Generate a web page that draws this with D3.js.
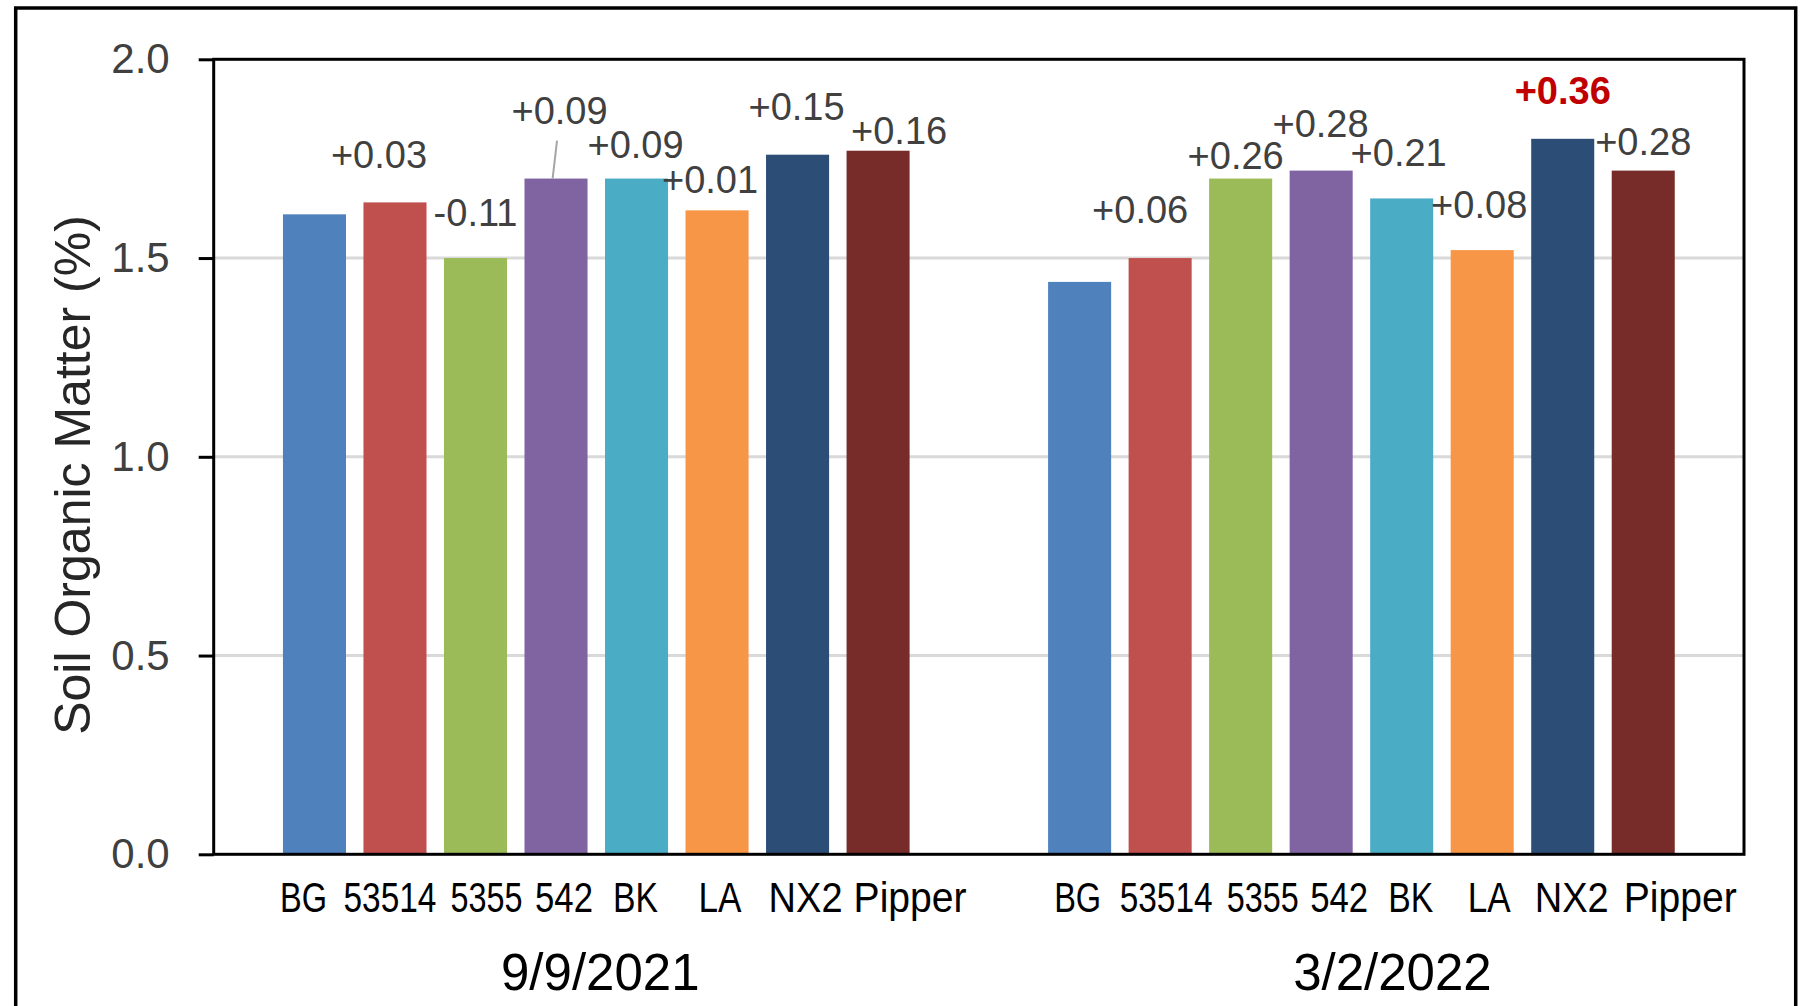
<!DOCTYPE html>
<html>
<head>
<meta charset="utf-8">
<script src="https://cdn.jsdelivr.net/npm/d3@7"></script>
<style>
  html, body { margin: 0; padding: 0; background: #ffffff; }
  svg { display: block; }
  text { font-family: "Liberation Sans", Arial, sans-serif; }
</style>
</head>
<body>
<svg id="chart" width="1805" height="1006"></svg>
<script>
// ---- data ----
const dates = ["9/9/2021", "3/2/2022"];
const varieties = ["BG", "53514", "5355", "542", "BK", "LA", "NX2", "Pipper"];
const colors = ["#4F81BD", "#C0504D", "#9BBB59", "#8064A2", "#4BACC6", "#F79646", "#2C4D75", "#772C2A"];
const som2021 = [1.61, 1.64, 1.50, 1.70, 1.70, 1.62, 1.76, 1.77];
const som2022 = [1.44, 1.50, 1.70, 1.72, 1.65, 1.52, 1.80, 1.72];
const diff2021 = ["", "+0.03", "-0.11", "+0.09", "+0.09", "+0.01", "+0.15", "+0.16"];
const diff2022 = ["", "+0.06", "+0.26", "+0.28", "+0.21", "+0.08", "+0.36", "+0.28"];
const highlight2022 = [false, false, false, false, false, false, true, false];
const yTicks = [0, 0.5, 1.0, 1.5, 2.0];
const yTitle = "Soil Organic Matter (%)";

// ---- layout (not data) ----
// data-label offsets relative to bar top-centre, px
const labelOffsets = [
  [[0, 0], [-16, -47], [0, -45], [3.5, -68], [-1, -34], [-7, -30], [-1, -48], [21, -20]],
  [[0, 0], [-20, -48], [-5, -23], [-0.6, -47], [-3, -45], [-3, -45], [0, -48], [0, -29]]
];
// category label rendered widths (condensed font look) and horizontal shifts, px
const catWidths = [47, 93, 72, 58, 45, 43, 74, 113];
const catShift = [
  [-11, -5, 11, 8, -1, 3, 8, 32],
  [-2, 6, 22, 18, 9, 7, 9, 37]
];
const dateShift = [4, 31];

const svg = d3.select("#chart");
const plot = { left: 213.7, right: 1744, top: 59.3, bottom: 854.3 };

const series = [som2021, som2022];
const diffs = [diff2021, diff2022];

const x0 = d3.scaleBand().domain(dates).range([plot.left, plot.right]).padding(0);
const x1 = d3.scaleBand().domain(varieties).range([0, x0.bandwidth()])
  .paddingInner(0.217).paddingOuter(0.86);
const y = d3.scaleLinear().domain([0, 2]).range([plot.bottom, plot.top]);

// outer frame
svg.append("rect")
  .attr("x", 15.7).attr("y", 8)
  .attr("width", 1795.7 - 15.7).attr("height", 1030)
  .attr("fill", "none").attr("stroke", "#000").attr("stroke-width", 3.5);

// gridlines
svg.append("g").selectAll("line")
  .data(yTicks.filter(t => t > 0 && t < 2))
  .join("line")
  .attr("x1", plot.left).attr("x2", plot.right)
  .attr("y1", d => y(d)).attr("y2", d => y(d))
  .attr("stroke", "#d9d9d9").attr("stroke-width", 3);

// bars
const groupsG = svg.append("g").selectAll("g")
  .data(dates)
  .join("g")
  .attr("transform", d => `translate(${x0(d)},0)`);

groupsG.each(function (dateLabel, gi) {
  const g = d3.select(this);
  const vals = series[gi];
  g.selectAll("rect")
    .data(varieties)
    .join("rect")
    .attr("x", d => x1(d))
    .attr("width", x1.bandwidth())
    .attr("y", (d, i) => y(vals[i]))
    .attr("height", (d, i) => y(0) - y(vals[i]))
    .attr("fill", (d, i) => colors[i]);
});

// plot border
svg.append("rect")
  .attr("x", plot.left).attr("y", plot.top)
  .attr("width", plot.right - plot.left).attr("height", plot.bottom - plot.top)
  .attr("fill", "none").attr("stroke", "#000").attr("stroke-width", 3);

// y axis
const yAxis = d3.axisLeft(y).tickValues(yTicks).tickFormat(d3.format(".1f"))
  .tickSizeInner(15).tickSizeOuter(0).tickPadding(29);
const yg = svg.append("g").attr("transform", `translate(${plot.left},0)`).call(yAxis);
yg.select(".domain").remove();
yg.selectAll(".tick line").attr("stroke", "#000").attr("stroke-width", 3);
yg.selectAll(".tick text")
  .attr("fill", "#404040")
  .style("font-family", "'Liberation Sans', Arial, sans-serif")
  .style("font-size", "42px");

// y title
svg.append("text")
  .attr("transform", `translate(72.5,475) rotate(-90)`)
  .attr("text-anchor", "middle")
  .attr("dominant-baseline", "central")
  .attr("fill", "#262626")
  .style("font-size", "50px")
  .text(yTitle);

// data labels
groupsG.each(function (dateLabel, gi) {
  const g = d3.select(this);
  const vals = series[gi];
  const labs = diffs[gi];
  g.selectAll("text.dl")
    .data(varieties.map((v, i) => ({ v, i })).filter(d => labs[d.i] !== ""))
    .join("text")
    .attr("class", "dl")
    .attr("x", d => x1(d.v) + x1.bandwidth() / 2 + labelOffsets[gi][d.i][0])
    .attr("y", d => y(vals[d.i]) + labelOffsets[gi][d.i][1])
    .attr("text-anchor", "middle")
    .attr("dominant-baseline", "central")
    .attr("fill", d => (gi === 1 && highlight2022[d.i]) ? "#C00000" : "#404040")
    .style("font-weight", d => (gi === 1 && highlight2022[d.i]) ? "bold" : "normal")
    .style("font-size", "38px")
    .text(d => labs[d.i]);
});

// leader line for 542 (first date)
{
  const i = 3;
  const cx = x0(dates[0]) + x1(varieties[i]) + x1.bandwidth() / 2;
  const ty = y(som2021[i]);
  svg.append("line")
    .attr("x1", cx + 1).attr("y1", ty - 38)
    .attr("x2", cx - 3.4).attr("y2", ty)
    .attr("stroke", "#a6a6a6").attr("stroke-width", 2);
}

// category labels (horizontally condensed via scale transform)
groupsG.each(function (dateLabel, gi) {
  d3.select(this).selectAll("text.cat")
    .data(varieties)
    .join("text")
    .attr("class", "cat")
    .attr("text-anchor", "middle")
    .attr("fill", "#000")
    .style("font-size", "43px")
    .text(d => d)
    .attr("transform", function (d, i) {
      const natural = this.getComputedTextLength();
      const s = catWidths[i] / natural;
      const cx = x1(d) + x1.bandwidth() / 2 + catShift[gi][i];
      return `translate(${cx},912) scale(${s},1)`;
    });
});

// date labels
svg.append("g").selectAll("text")
  .data(dates)
  .join("text")
  .attr("x", (d, i) => x0(d) + x0.bandwidth() / 2 + dateShift[i])
  .attr("y", 990)
  .attr("text-anchor", "middle")
  .attr("fill", "#000")
  .style("font-size", "51px")
  .text(d => d);
</script>
</body>
</html>
